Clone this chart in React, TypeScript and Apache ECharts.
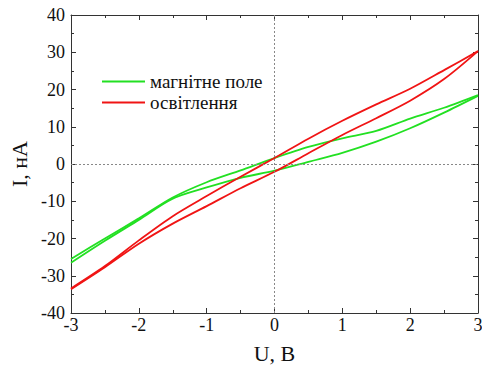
import React, { useEffect, useRef } from "react";
import * as echarts from "echarts";

const uValues = [-3, -2.5, -2, -1.5, -1, -0.5, 0, 0.5, 1, 1.5, 2, 2.5, 3];
const greenUpper = [-25.5, -20.0, -14.6, -9.0, -4.9, -1.7, 1.6, 4.6, 6.9, 8.9, 12.2, 15.1, 18.5];
const greenLower = [-26.5, -20.6, -15.0, -9.3, -6.3, -3.7, -1.8, 0.6, 3.0, 6.0, 9.6, 13.8, 18.3];
const redUpper = [-33.4, -27.4, -20.5, -14.0, -8.6, -3.4, 1.6, 6.8, 11.6, 16.0, 20.2, 25.2, 30.3];
const redLower = [-33.6, -27.7, -21.4, -16.0, -11.3, -6.5, -2.1, 2.9, 7.8, 12.3, 17.0, 22.8, 30.3];
const seriesNames = ["магнітне поле", "освітлення"];
const xTitle = "U, B";
const yTitle = "I, нА";

function branch(values: number[]) {
  return uValues.map((u, i) => [u, values[i]]);
}

const FONT = "Liberation Serif";
const GREEN = "#22e022";
const RED = "#f01414";

export default function App() {
  const ref = useRef<HTMLDivElement>(null);
  useEffect(() => {
    document.body.style.margin = "0";
    const chart = echarts.init(ref.current!, null, { renderer: "svg" });
    const axisLine = { show: true, onZero: false, lineStyle: { color: "#333", width: 1 } };
    const tick = { show: true, inside: true, length: 5, lineStyle: { color: "#333" } };
    const minor = { show: true, splitNumber: 2, length: 3, lineStyle: { color: "#333" } };
    const label = { color: "#111", fontFamily: FONT, fontSize: 18 };
    const lineSeries = (name: string, values: number[], color: string, z: number, extra: any = {}) => ({
      name,
      type: "line",
      data: branch(values),
      showSymbol: false,
      symbol: "none",
      smooth: 0.3,
      lineStyle: { color, width: 1.8 },
      itemStyle: { color },
      z,
      ...extra,
    });
    chart.setOption({
      animation: false,
      backgroundColor: "#fff",
      textStyle: { fontFamily: FONT },
      grid: { left: 71, right: 4, top: 15, bottom: 53, outerBoundsMode: "none", containLabel: false },
      legend: {
        data: seriesNames,
        orient: "vertical",
        left: 97,
        top: 67,
        icon: "rect",
        itemWidth: 43,
        itemHeight: 2,
        itemGap: 2,
        textStyle: { fontFamily: FONT, fontSize: 19, color: "#111" },
      },
      xAxis: [
        {
          type: "value",
          min: -3,
          max: 3,
          interval: 1,
          axisLine,
          axisTick: tick,
          minorTick: minor,
          splitLine: { show: false },
          axisLabel: { ...label, margin: 3 },
          name: xTitle,
          nameLocation: "middle",
          nameGap: 29,
          nameTextStyle: { fontFamily: FONT, fontSize: 22, color: "#111" },
        },
        {
          type: "value",
          position: "top",
          min: -3,
          max: 3,
          interval: 1,
          axisLine,
          axisTick: tick,
          minorTick: minor,
          splitLine: { show: false },
          axisLabel: { show: false },
        },
      ],
      yAxis: [
        {
          type: "value",
          min: -40,
          max: 40,
          interval: 10,
          axisLine,
          axisTick: tick,
          minorTick: minor,
          splitLine: { show: false },
          axisLabel: { ...label, margin: 6 },
          name: yTitle,
          nameLocation: "middle",
          nameGap: 38,
          nameRotate: 90,
          nameTextStyle: { fontFamily: FONT, fontSize: 22, color: "#111" },
        },
        {
          type: "value",
          position: "right",
          min: -40,
          max: 40,
          interval: 10,
          axisLine,
          axisTick: tick,
          minorTick: minor,
          splitLine: { show: false },
          axisLabel: { show: false },
        },
      ],
      series: [
        lineSeries(seriesNames[0], greenLower, GREEN, 3, {
          markLine: {
            silent: true,
            symbol: "none",
            label: { show: false },
            lineStyle: { color: "#888", type: [2, 2], width: 1 },
            data: [{ xAxis: 0 }, { yAxis: 0 }],
          },
        }),
        lineSeries(seriesNames[0], greenUpper, GREEN, 3),
        lineSeries(seriesNames[1], redLower, RED, 4),
        lineSeries(seriesNames[1], redUpper, RED, 4),
      ],
    });
    return () => chart.dispose();
  }, []);
  return <div ref={ref} style={{ width: 482, height: 366 }} />;
}
